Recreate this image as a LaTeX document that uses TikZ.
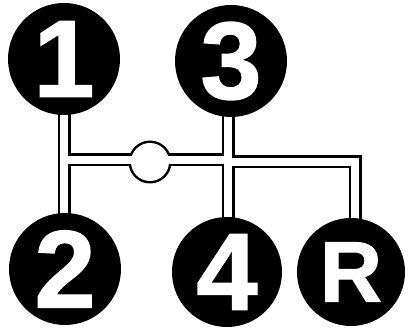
\documentclass[tikz,border=0pt]{standalone}
\usepackage{fontspec}
\setmainfont{Liberation Sans}
\newfontfamily\gearfont[FakeBold=1.2]{Liberation Sans Bold}
\pgfdeclarelayer{bg}
\pgfsetlayers{bg,main}
\begin{document}
\begin{tikzpicture}[x=1pt,y=-1pt,
  gear/.style={circle, fill=black, text=white, minimum size=112pt, inner sep=0pt,
    font=\fontsize{110}{110}\gearfont},
  chouter/.style={line width=13pt, draw=black, line join=miter, line cap=butt},
  chinner/.style={line width=8pt, draw=white, line join=miter, line cap=butt}]
\useasboundingbox (0,0) rectangle (408,331);
\node[gear] (g1) at (64,59) {1};
\node[gear] (g3) at (231,61) {3};
\node[gear] (g2) at (65,269) {2};
\node[gear, minimum size=110pt] (g4) at (227,272) {4};
\node[gear, minimum size=108pt, font=\fontsize{86}{86}\gearfont] (gR) at (351,272) {R};
\coordinate (jL) at (64,160);
\coordinate (jM) at (228,160);
\coordinate (jR) at (355,162);
\coordinate (knob) at (150,162);
\begin{pgfonlayer}{bg}
  \foreach \st/\col/\r in {chouter/black/21.5, chinner/white/19} {
    \draw[\st] (jL |- g1.center) -- (jL |- g2.center);
    \draw[\st] (jL) -- (jM);
    \draw[\st] (jM |- g3.center) -- (jM |- g4.center);
    \draw[\st] (jM |- jR) -- (jR) -- (jR |- gR.center);
    \fill[\col] (knob) circle[radius=\r];
  }
\end{pgfonlayer}
\end{tikzpicture}
\end{document}
